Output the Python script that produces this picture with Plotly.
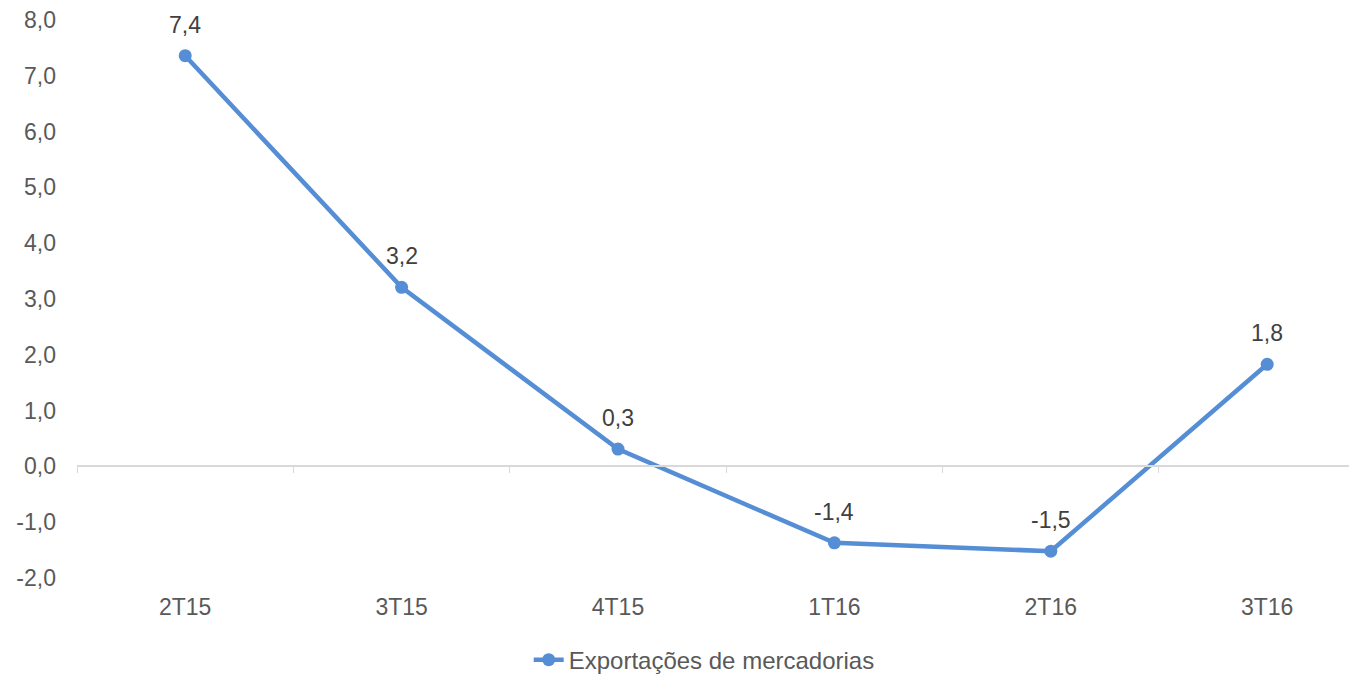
import plotly.graph_objects as go

# quarters and growth values (%)
quarters = ['2T15', '3T15', '4T15', '1T16', '2T16', '3T16']
exports = [7.36, 3.21, 0.31, -1.37, -1.52, 1.83]
labels = [f'{v:.1f}'.replace('.', ',') for v in exports]

# y tick labels (Excel style, hyphen minus and comma decimal)
y_ticks = [-2, -1, 0, 1, 2, 3, 4, 5, 6, 7, 8]
y_ticktext = [f'{v:.1f}'.replace('.', ',') for v in y_ticks]

BLUE = '#558ED5'
GREY = '#595959'
FONT = 'Liberation Sans, Arial'

fig = go.Figure()

fig.add_trace(go.Scatter(
    x=quarters, y=exports,
    mode='lines+markers',
    name='Exportações de mercadorias',
    line=dict(color=BLUE, width=4.5),
    marker=dict(color=BLUE, size=13),
    cliponaxis=False,
))

# data labels sit a fixed distance above each point
for q, v, t in zip(quarters, exports, labels):
    fig.add_annotation(
        x=q, y=v, text=t, showarrow=False,
        yanchor='middle', yshift=31,
        font=dict(size=23, color='#404040', family=FONT),
    )

# invisible trace to drive the zero-line axis with boundary ticks
fig.add_trace(go.Scatter(
    x=quarters, y=[0] * len(quarters),
    xaxis='x2', mode='markers', marker=dict(opacity=0),
    showlegend=False, hoverinfo='skip',
))

fig.update_layout(
    width=1349, height=666,
    margin=dict(l=69, r=0, t=12, b=96, autoexpand=False),
    paper_bgcolor='white', plot_bgcolor='white',
    font=dict(family=FONT, size=23, color=GREY),
    xaxis=dict(
        categoryorder='array', categoryarray=quarters,
        range=[-0.5, 5.415],
        showgrid=False, showline=False, zeroline=False, ticks='',
        tickfont=dict(size=23, color=GREY),
        ticklabelstandoff=13, automargin=False,
    ),
    xaxis2=dict(
        overlaying='x', anchor='free', position=0.2,
        categoryorder='array', categoryarray=quarters,
        range=[-0.5, 5.415],
        showgrid=False, showline=True, linecolor='#D9D9D9', linewidth=2,
        ticks='outside', tickson='boundaries', ticklen=6, tickcolor='#D9D9D9',
        showticklabels=False,
    ),
    yaxis=dict(
        range=[-2, 8], tickvals=y_ticks, ticktext=y_ticktext,
        showgrid=False, zeroline=False, showline=False, ticks='',
        tickfont=dict(size=23, color=GREY),
        ticklabelstandoff=20, automargin=False,
        ticklabeloverflow='allow',
    ),
    legend=dict(
        orientation='h', x=0.49, xanchor='center', y=-0.147, yanchor='middle',
        font=dict(size=24, color=GREY),
    ),
    showlegend=True,
)

fig.write_html('out.html')
